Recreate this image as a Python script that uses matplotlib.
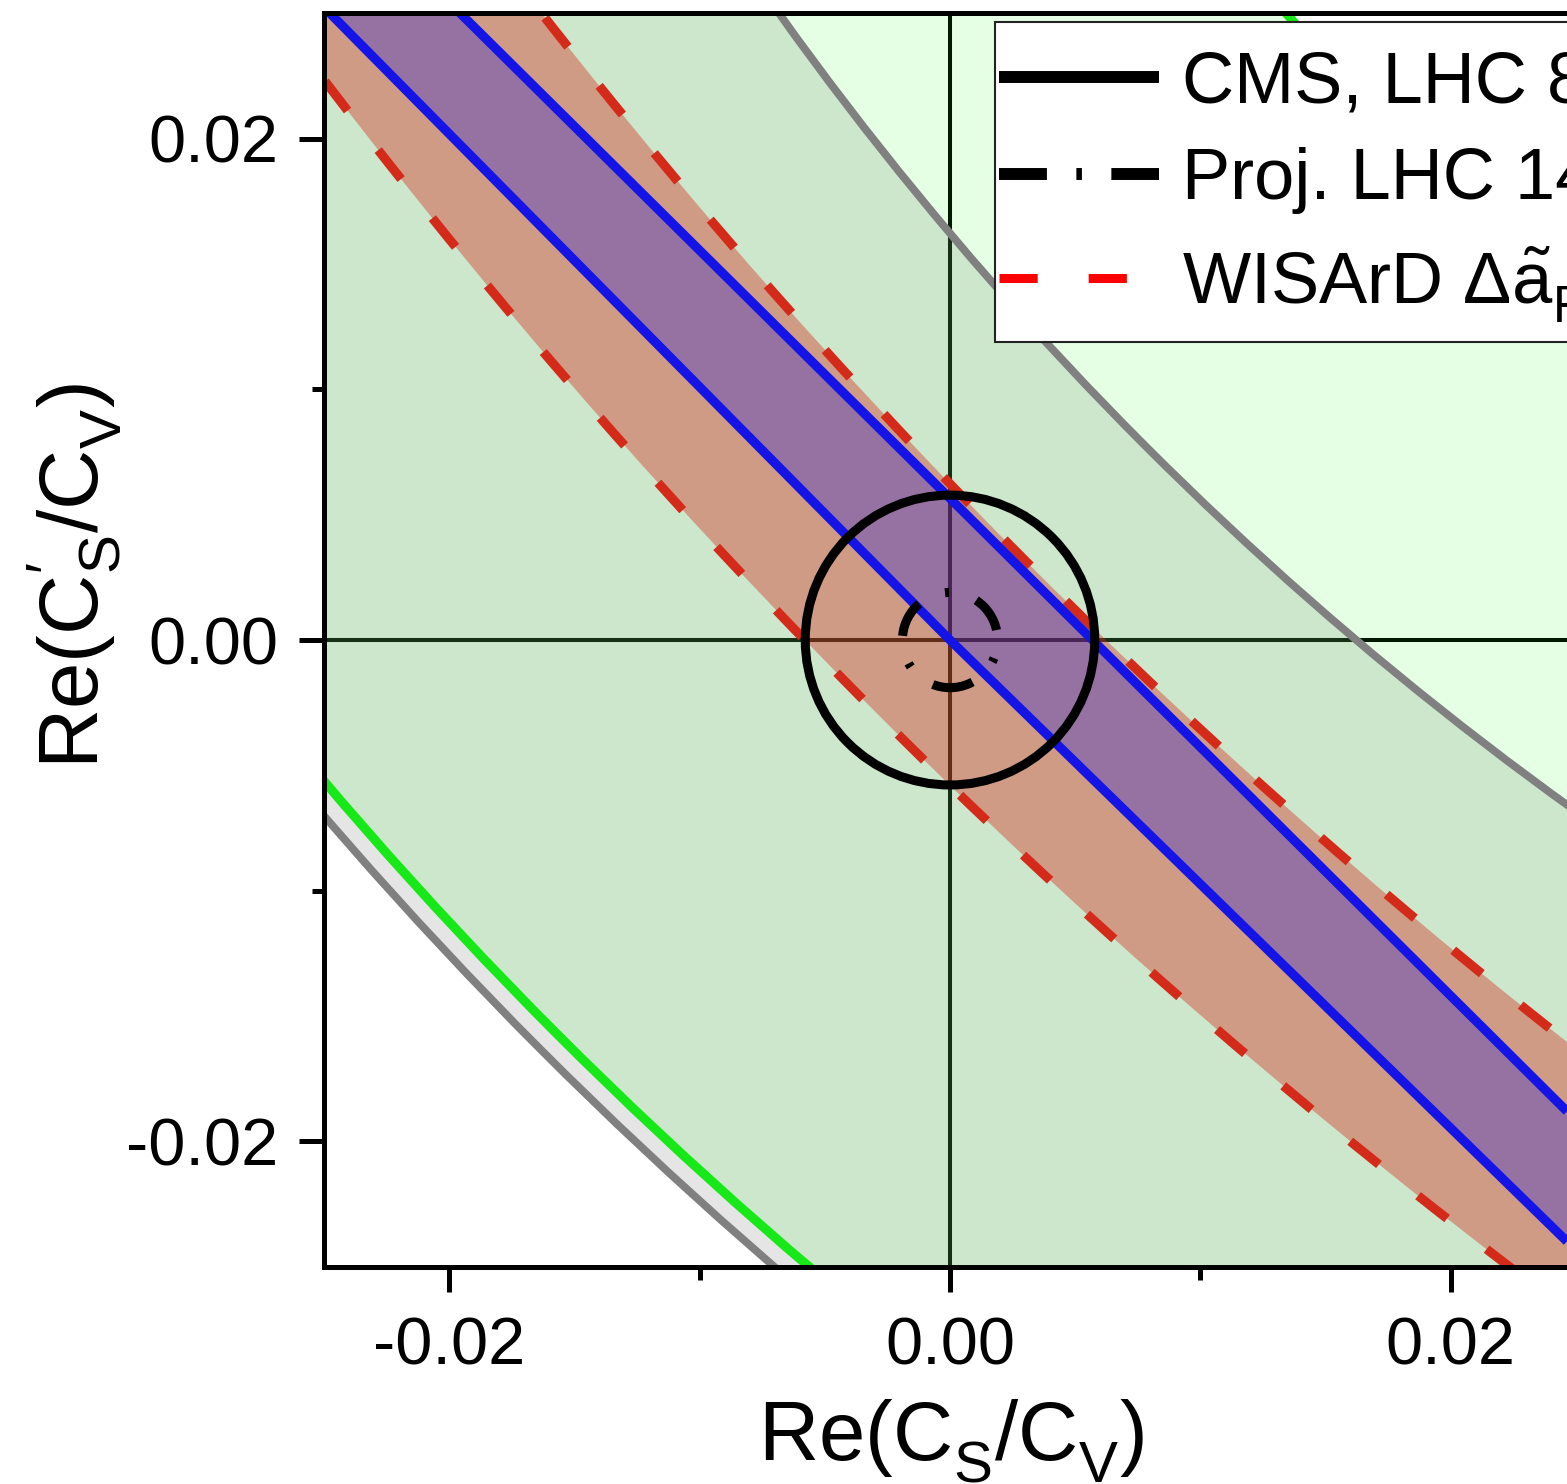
import matplotlib
matplotlib.use("Agg")
import matplotlib.pyplot as plt
from matplotlib.patches import Circle, Polygon, Rectangle, Arc, Wedge
from matplotlib.lines import Line2D
from matplotlib.ticker import FixedLocator, FormatStrFormatter

plt.rcParams['font.family'] = ['Liberation Sans', 'DejaVu Sans']
plt.rcParams['mathtext.fontset'] = 'custom'
plt.rcParams['mathtext.rm'] = 'Liberation Sans'
plt.rcParams['mathtext.it'] = 'Liberation Sans:italic'
plt.rcParams['mathtext.bf'] = 'Liberation Sans:bold'
plt.rcParams['mathtext.sf'] = 'Liberation Sans'
plt.rcParams['axes.unicode_minus'] = False
plt.rcParams['lines.scale_dashes'] = False
try:  # subscripts sit a little lower in the original
    import matplotlib._mathtext as _mt
    _mt.FontConstantsBase.sub1 = 0.52
except Exception:
    pass

# ---------------- data ----------------
xlim = (-0.025, 0.025)
ylim = (-0.025, 0.025)
x_major = [-0.02, 0.0, 0.02]
x_minor = [-0.01, 0.01]
y_major = [-0.02, 0.0, 0.02]
y_minor = [-0.01, 0.01]

# curved boundaries: circular arcs (centre, radii)
gray_center = (0.105, 0.105)
gray_radii = [0.1375, 0.1716]     # upper-right boundary, lower-left boundary
green_center = (0.105, 0.105)
green_radii = [0.1216, 0.1707]
red_center = (0.1735, 0.1735)
red_radii = [0.2410, 0.2495]

# straight boundaries of the blue band (x, y)
blue_upper_x = [-0.01964, -0.00016, 0.02464]
blue_upper_y = [0.02508, 0.00581, -0.01880]
blue_lower_x = [-0.02484, 0.0, 0.02464]
blue_lower_y = [0.02508, 0.0, -0.02399]

cms_center = (0.0, 0.0)
cms_radius = 0.00578
proj_center = (0.0, 0.0)
proj_radius = 0.0019

legend_labels = ["CMS, LHC 8 TeV", "Proj. LHC 14 TeV",
                 r"WISArD $\Delta\tilde{\mathrm{a}}_\mathrm{F}$"]
xlabel = r"Re(C$_\mathrm{S}$/C$_\mathrm{V}$)"
ylabel = r"Re(C$_\mathrm{S}^{\prime}$/C$_\mathrm{V}$)"

# ---------------- figure ----------------
W, H = 1567, 1484
fig = plt.figure(figsize=(W / 100, H / 100), dpi=100)
ax = fig.add_axes([324 / W, 1 - 1266.8 / H, 1252 / W, (1266.8 - 13.3) / H])
ax.set_xlim(*xlim)
ax.set_ylim(*ylim)

ax.axhline(0, color='black', lw=2.9, zorder=1)
ax.axvline(0, color='black', lw=2.9, zorder=1)

def band(center, radii, color, alpha, z):
    r_in, r_out = min(radii), max(radii)
    ax.add_patch(Wedge(center, r_out, 0, 360, width=r_out - r_in, facecolor=color,
                       alpha=alpha, edgecolor='none', zorder=z))

band(gray_center, gray_radii, '#808080', 0.2, 2)
band(green_center, green_radii, '#00ff00', 0.1, 2.1)
band(red_center, red_radii, '#d42a1a', 0.4, 3)
blue_poly = list(zip(blue_upper_x, blue_upper_y)) + list(zip(blue_lower_x, blue_lower_y))[::-1]
ax.add_patch(Polygon(blue_poly, closed=True, facecolor='#1414e6', alpha=0.3,
                     edgecolor='none', zorder=4))

def arcs(center, radii, **kw):
    for r in radii:
        ax.add_patch(Arc(center, 2 * r, 2 * r, theta1=195, theta2=255, **kw))

arcs(gray_center, gray_radii, color='#808080', lw=5.6, zorder=5)
arcs(green_center, green_radii, color='#17e817', lw=6.6, zorder=5)
arcs(red_center, red_radii, color='#d42a1a', lw=6.6, zorder=6,
     linestyle=(0, (26.6, 36)), capstyle='butt')
ax.plot(blue_upper_x, blue_upper_y, color='#1414e6', lw=6.6, zorder=6, solid_capstyle='butt')
ax.plot(blue_lower_x, blue_lower_y, color='#1414e6', lw=6.6, zorder=6, solid_capstyle='butt')

ax.add_patch(Circle(cms_center, cms_radius, fill=False, edgecolor='black', lw=6.5, zorder=7))
ax.add_patch(Circle(proj_center, proj_radius, fill=False, edgecolor='black', lw=6.5, zorder=7,
                    linestyle=(9.7, (26.6, 20.6, 3.0, 20.6)), capstyle='butt'))

# axes styling
for s in ax.spines.values():
    s.set_linewidth(3.6)
    s.set_zorder(10)
ax.xaxis.set_major_locator(FixedLocator(x_major))
ax.xaxis.set_minor_locator(FixedLocator(x_minor))
ax.yaxis.set_major_locator(FixedLocator(y_major))
ax.yaxis.set_minor_locator(FixedLocator(y_minor))
ax.xaxis.set_major_formatter(FormatStrFormatter('%.2f'))
ax.yaxis.set_major_formatter(FormatStrFormatter('%.2f'))
ax.tick_params(which='major', direction='out', length=18, width=3.6, labelsize=48)
ax.tick_params(which='minor', direction='out', length=9, width=3.6)
ax.tick_params(axis='x', which='major', pad=17.8)
ax.tick_params(axis='y', which='major', pad=14.8)

fig.text(951.5 / W, 1 - 1460.7 / H, xlabel, fontsize=60, ha='center', va='baseline')
fig.text(99 / W, 1 - 575.5 / H, ylabel, fontsize=60, ha='center', va='baseline',
         rotation=90, rotation_mode='anchor')

# legend
handles = [Line2D([], [], color='black', lw=8.6, solid_capstyle='butt'),
           Line2D([], [], color='black', lw=8.6, dashes=(34.5, 21.2, 4.0, 21.2)),
           Line2D([], [], color='red', lw=6.5, dashes=(27.5, 36.7))]
frame = Rectangle((995 / W, 1 - 342 / H), (1800 - 995) / W, (342 - 22) / H,
                  transform=fig.transFigure, facecolor='white', edgecolor='#222222',
                  lw=1.5, zorder=4)
fig.add_artist(frame)
fig.legend(handles, legend_labels, loc='upper left', bbox_to_anchor=(999 / W, 1 - 50 / H),
           frameon=False, fontsize=52, handlelength=160 / 72, handletextpad=22 / 72,
           borderpad=0, borderaxespad=0, labelspacing=0.42)

fig.savefig('out.png', dpi=100)
